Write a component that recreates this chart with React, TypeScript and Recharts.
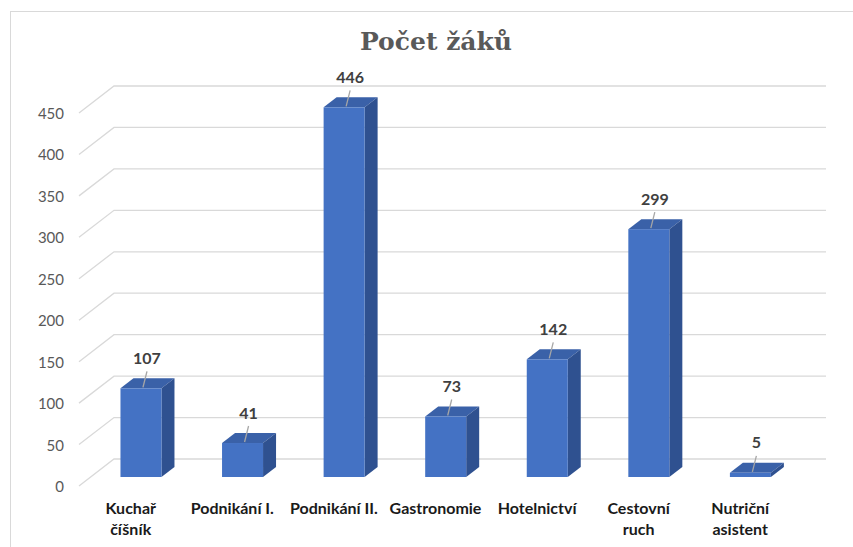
import React from 'react';
import { BarChart, Bar, XAxis, YAxis, CartesianGrid, LabelList } from 'recharts';

const categories = ['Kuchař\nčíšník', 'Podnikání I.', 'Podnikání II.', 'Gastronomie', 'Hotelnictví', 'Cestovní\nruch', 'Nutriční\nasistent'];
const pupils = [107, 41, 446, 73, 142, 299, 5];
const yTicks = [0, 50, 100, 150, 200, 250, 300, 350, 400, 450];

const data = categories.map((name, i) => ({ name, value: pupils[i] }));

const FRONT = '#4472C4';
const TOP = '#3A61A8';
const SIDE = '#2F5190';
const DX = 13;
const DY = 10;

const Bar3D = (props: any) => {
    const { x, y, width, height } = props;
    return (
        <g>
            <polygon
                points={`${x},${y} ${x + DX},${y - DY} ${x + width + DX},${y - DY} ${x + width},${y}`}
                fill={TOP}
            />
            <polygon
                points={`${x + width},${y} ${x + width + DX},${y - DY} ${x + width + DX},${y + height - DY} ${x + width},${y + height}`}
                fill={SIDE}
            />
            <rect x={x} y={y} width={width} height={height} fill={FRONT} />
        </g>
    );
};

const gridLine = (props: any) => {
    const { y1, index } = props;
    return (
        <polyline
            key={`g-${index}`}
            points={`79,${y1 + 9} 114,${y1 - 18} 826,${y1 - 18}`}
            fill="none"
            stroke="#d9d9d9"
            strokeWidth={1.3}
        />
    );
};

const YTick = (props: any) => {
    const { y, payload } = props;
    return (
        <text x={64} y={y + 9} textAnchor="end" dominantBaseline="central" fill="#595959" fontSize={15} fontFamily="Lato">
            {payload.value}
        </text>
    );
};

const XTick = (props: any) => {
    const { x, payload } = props;
    const lines = String(payload.value).split('\n');
    return (
        <text x={x - 10} textAnchor="middle" fill="#1a1a1a" fontSize={16} fontWeight={700} fontFamily="Lato">
            {lines.map((l, i) => (
                <tspan key={i} x={x - 10} y={514 + i * 21}>{l}</tspan>
            ))}
        </text>
    );
};

const ValueLabel = (props: any) => {
    const { x, y, width, value } = props;
    const cx = x + width / 2;
    return (
        <g>
            <line x1={cx + 6} y1={y - 17} x2={cx + 2} y2={y - 1} stroke="#a6a6a6" strokeWidth={1.3} />
            <text x={cx + 6} y={y - 31} textAnchor="middle" dominantBaseline="central" fill="#404040" fontSize={16} fontWeight={700} fontFamily="Lato">
                {value}
            </text>
        </g>
    );
};

export default function App() {
    return (
        <div style={{ position: 'absolute', left: 0, top: 0, width: 853, height: 547, background: '#fff', overflow: 'hidden' }}>
            <div style={{ position: 'absolute', left: 10, top: 11, width: 860, height: 560, border: '1px solid #d9d9d9', boxSizing: 'border-box' }} />
            <div style={{ position: 'absolute', left: 0, top: 27, width: 872, textAlign: 'center', fontFamily: 'DejaVu Serif', fontWeight: 700, fontSize: 25, color: '#595959', lineHeight: '30px' }}>
                Počet žáků
            </div>
            <div style={{ position: 'absolute', left: 0, top: 0 }}>
                <BarChart
                    width={853}
                    height={547}
                    data={data}
                    margin={{ top: 104, right: 52, bottom: 20, left: 0 }}
                    barCategoryGap="30%"
                >
                    <CartesianGrid vertical={false} horizontal={gridLine} />
                    <XAxis dataKey="name" axisLine={false} tickLine={false} interval={0} height={50} tick={<XTick />} />
                    <YAxis domain={[0, 450]} ticks={yTicks} axisLine={false} tickLine={false} width={90} tick={<YTick />} />
                    <Bar dataKey="value" shape={<Bar3D />} isAnimationActive={false}>
                        <LabelList dataKey="value" content={<ValueLabel />} />
                    </Bar>
                </BarChart>
            </div>
        </div>
    );
}
